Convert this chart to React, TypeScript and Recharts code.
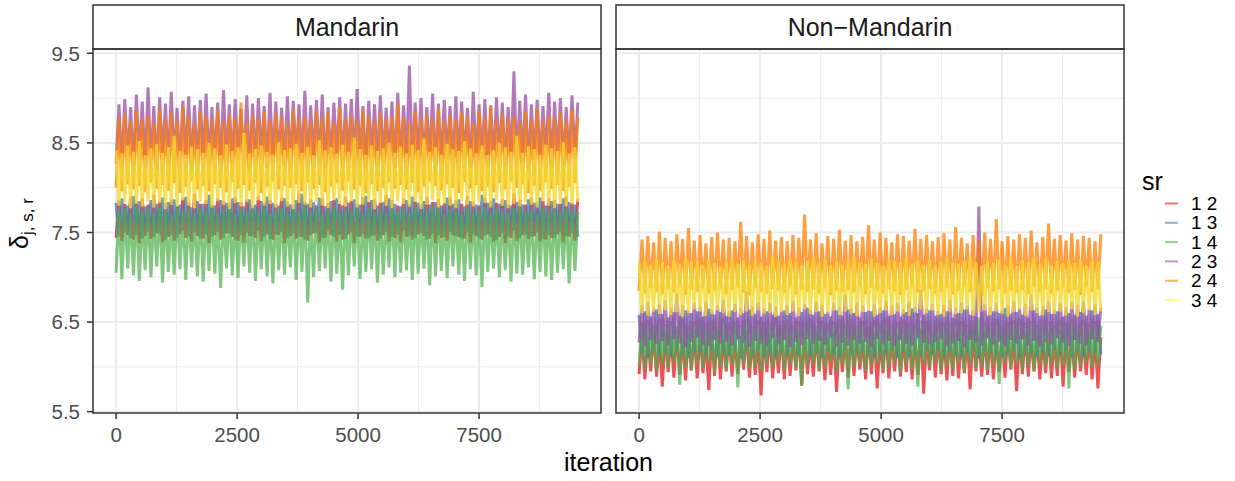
import { LineChart, Line, XAxis, YAxis, CartesianGrid } from 'recharts';

// MCMC draws, thinned: one value every 60 iterations
const iterations = Array.from({ length: 160 }, (_, i) => i * 60);

const pairs = ['1 2', '1 3', '1 4', '2 3', '2 4', '3 4'];
const pairKeys = ['k12', 'k13', 'k14', 'k23', 'k24', 'k34'];
// legend keys are the pale Set1 colours; the dense traces read a bit deeper
const keyColors = ['#E41A1C', '#377EB8', '#4DAF4A', '#984EA3', '#FF7F00', '#FFFF33'];
const lineColors = ['#E41A1C', '#377EB8', '#4DAF4A', '#984EA3', '#FF7F00', '#F3D92E'];
const lineOpacity = [0.75, 0.75, 0.7, 0.75, 0.75, 0.8];

const yTicks = [5.5, 6.5, 7.5, 8.5, 9.5];
const yMinor = [6, 7, 8, 9];
const xTicks = [0, 2500, 5000, 7500];
const xMinor = [1250, 3750, 6250, 8750];

// Mandarin
const m12 = [
  7.44, 7.86, 7.40, 7.82, 7.47, 7.90, 7.42, 7.84, 7.38, 7.88,
  7.46, 7.81, 7.43, 7.92, 7.49, 7.85, 7.39, 7.83, 7.45, 7.87,
  7.41, 7.80, 7.48, 7.89, 7.44, 7.84, 7.40, 7.93, 7.46, 7.82,
  7.43, 7.86, 7.38, 7.81, 7.47, 7.88, 7.42, 7.85, 7.49, 7.83,
  7.45, 7.90, 7.41, 7.84, 7.39, 7.87, 7.46, 7.80, 7.44, 7.91,
  7.40, 7.83, 7.48, 7.86, 7.42, 7.82, 7.47, 7.89, 7.38, 7.85,
  7.46, 7.81, 7.43, 7.94, 7.45, 7.84, 7.41, 7.87, 7.49, 7.80,
  7.39, 7.88, 7.44, 7.83, 7.47, 7.86, 7.40, 7.82, 7.42, 7.90,
  7.48, 7.85, 7.38, 7.81, 7.45, 7.89, 7.43, 7.84, 7.46, 7.87,
  7.41, 7.83, 7.47, 7.92, 7.40, 7.86, 7.44, 7.80, 7.39, 7.88,
  7.45, 7.82, 7.42, 7.85, 7.48, 7.81, 7.46, 7.90, 7.43, 7.84,
  7.38, 7.87, 7.44, 7.83, 7.41, 7.89, 7.47, 7.86, 7.45, 7.82,
  7.43, 7.91, 7.39, 7.84, 7.46, 7.80, 7.42, 7.88, 7.48, 7.85,
  7.40, 7.83, 7.45, 7.87, 7.38, 7.82, 7.44, 7.93, 7.41, 7.86,
  7.47, 7.81, 7.43, 7.89, 7.46, 7.84, 7.40, 7.85, 7.42, 7.88,
  7.44, 7.86, 7.48, 7.82, 7.39, 7.90, 7.45, 7.83, 7.41, 7.87,
];
const m13 = [
  7.83, 7.46, 7.88, 7.50, 7.80, 7.44, 7.91, 7.48, 7.85, 7.43,
  7.79, 7.51, 7.86, 7.45, 7.82, 7.49, 7.89, 7.42, 7.84, 7.47,
  7.87, 7.44, 7.81, 7.52, 7.90, 7.46, 7.78, 7.50, 7.85, 7.43,
  7.82, 7.48, 7.92, 7.45, 7.80, 7.51, 7.86, 7.44, 7.83, 7.49,
  7.88, 7.42, 7.84, 7.47, 7.79, 7.50, 7.87, 7.46, 7.81, 7.52,
  7.85, 7.45, 7.90, 7.43, 7.83, 7.48, 7.80, 7.51, 7.88, 7.44,
  7.81, 7.49, 7.86, 7.46, 7.93, 7.42, 7.82, 7.47, 7.84, 7.50,
  7.89, 7.44, 7.79, 7.52, 7.85, 7.45, 7.88, 7.48, 7.80, 7.43,
  7.83, 7.50, 7.87, 7.46, 7.81, 7.49, 7.91, 7.44, 7.86, 7.47,
  7.80, 7.43, 7.84, 7.51, 7.88, 7.45, 7.82, 7.48, 7.79, 7.52,
  7.86, 7.46, 7.90, 7.44, 7.83, 7.50, 7.85, 7.42, 7.81, 7.49,
  7.84, 7.47, 7.80, 7.45, 7.89, 7.51, 7.82, 7.46, 7.87, 7.43,
  7.79, 7.50, 7.85, 7.48, 7.81, 7.44, 7.92, 7.47, 7.83, 7.45,
  7.88, 7.42, 7.82, 7.49, 7.86, 7.46, 7.80, 7.52, 7.84, 7.44,
  7.81, 7.48, 7.87, 7.45, 7.83, 7.50, 7.89, 7.43, 7.80, 7.47,
  7.85, 7.44, 7.82, 7.51, 7.88, 7.46, 7.84, 7.49, 7.81, 7.45,
];
const m14 = [
  7.05, 7.74, 6.98, 7.77, 7.10, 7.71, 7.02, 7.79, 6.96, 7.73,
  7.08, 7.76, 7.00, 7.72, 7.12, 7.78, 6.94, 7.75, 7.06, 7.70,
  7.03, 7.79, 7.09, 7.73, 6.97, 7.76, 7.11, 7.71, 7.01, 7.77,
  6.95, 7.74, 7.07, 7.80, 7.04, 7.72, 6.88, 7.75, 7.10, 7.78,
  7.02, 7.70, 6.99, 7.76, 7.12, 7.73, 7.05, 7.79, 6.96, 7.74,
  7.09, 7.77, 7.01, 7.71, 6.93, 7.75, 7.08, 7.78, 7.03, 7.72,
  7.11, 7.76, 6.97, 7.74, 7.06, 7.80, 6.72, 7.73, 7.00, 7.77,
  7.07, 7.71, 7.10, 7.75, 6.95, 7.79, 7.04, 7.72, 6.86, 7.76,
  7.02, 7.74, 7.12, 7.78, 6.98, 7.70, 7.06, 7.77, 7.09, 7.73,
  6.94, 7.75, 7.03, 7.71, 7.11, 7.79, 7.00, 7.74, 7.05, 7.76,
  7.08, 7.72, 6.97, 7.78, 7.04, 7.73, 7.10, 7.75, 6.91, 7.80,
  7.01, 7.77, 7.07, 7.70, 6.99, 7.76, 7.12, 7.74, 7.03, 7.71,
  6.96, 7.79, 7.09, 7.73, 7.02, 7.75, 6.89, 7.78, 7.06, 7.72,
  7.10, 7.76, 7.00, 7.74, 7.08, 7.71, 6.95, 7.77, 7.04, 7.79,
  7.03, 7.73, 7.11, 7.75, 6.98, 7.70, 7.06, 7.78, 7.01, 7.74,
  6.97, 7.76, 7.05, 7.72, 7.09, 7.77, 6.93, 7.75, 7.07, 7.73,
];
const m23 = [
  8.27, 8.93, 8.22, 8.99, 8.30, 8.90, 8.25, 9.04, 8.32, 8.96,
  8.23, 9.12, 8.28, 8.91, 8.20, 9.01, 8.31, 8.94, 8.26, 9.07,
  8.29, 8.89, 8.24, 8.97, 8.33, 9.02, 8.21, 8.92, 8.27, 8.98,
  8.30, 9.05, 8.25, 8.90, 8.32, 8.95, 8.22, 9.09, 8.28, 8.93,
  8.24, 8.99, 8.31, 8.88, 8.26, 9.03, 8.20, 8.94, 8.29, 9.00,
  8.33, 8.91, 8.23, 9.06, 8.27, 8.96, 8.30, 8.89, 8.25, 9.02,
  8.21, 8.97, 8.32, 8.93, 8.28, 9.08, 8.24, 8.92, 8.31, 8.98,
  8.26, 9.04, 8.22, 8.90, 8.29, 8.95, 8.33, 9.01, 8.23, 8.94,
  8.30, 8.99, 8.25, 9.10, 8.27, 8.91, 8.20, 8.97, 8.32, 8.93,
  8.24, 9.03, 8.28, 8.89, 8.31, 8.96, 8.22, 9.06, 8.26, 8.92,
  8.29, 9.36, 8.23, 8.95, 8.32, 9.00, 8.25, 8.90, 8.30, 9.05,
  8.21, 8.94, 8.27, 8.98, 8.33, 8.91, 8.24, 9.02, 8.28, 8.96,
  8.31, 8.89, 8.22, 9.07, 8.26, 8.93, 8.30, 8.99, 8.23, 8.92,
  8.28, 9.01, 8.32, 8.95, 8.25, 8.90, 8.29, 9.30, 8.24, 8.97,
  8.27, 9.04, 8.20, 8.93, 8.31, 8.98, 8.26, 8.91, 8.33, 9.06,
  8.23, 8.96, 8.30, 9.00, 8.25, 8.90, 8.28, 9.03, 8.32, 8.95,
];
const m24 = [
  8.00, 8.78, 7.96, 8.83, 8.04, 8.74, 7.98, 8.86, 8.02, 8.76,
  7.95, 8.81, 8.06, 8.73, 7.99, 8.88, 8.03, 8.77, 7.97, 8.84,
  8.05, 8.75, 7.94, 8.92, 8.01, 8.79, 8.07, 8.72, 7.98, 8.85,
  8.02, 8.80, 7.96, 8.76, 8.04, 8.87, 8.00, 8.74, 7.95, 8.82,
  8.06, 8.78, 7.99, 8.95, 8.03, 8.73, 7.97, 8.81, 8.05, 8.77,
  7.94, 8.85, 8.01, 8.75, 8.07, 8.83, 7.98, 8.79, 8.02, 8.72,
  8.00, 8.88, 8.04, 8.76, 7.96, 8.80, 8.06, 8.74, 7.99, 8.86,
  8.03, 8.78, 7.95, 8.84, 8.01, 8.73, 8.05, 8.90, 7.97, 8.77,
  8.07, 8.81, 7.98, 8.75, 8.02, 8.87, 7.94, 8.79, 8.04, 8.74,
  7.96, 8.83, 8.00, 8.76, 8.06, 8.80, 7.99, 8.93, 8.03, 8.78,
  7.98, 8.73, 8.05, 8.85, 7.95, 8.77, 8.01, 8.82, 8.07, 8.75,
  8.02, 8.88, 7.97, 8.74, 8.04, 8.81, 8.00, 8.76, 7.94, 8.84,
  8.06, 8.79, 7.99, 8.72, 8.03, 8.86, 7.96, 8.78, 8.01, 8.91,
  7.95, 8.75, 8.05, 8.83, 7.98, 8.77, 8.07, 8.80, 8.00, 8.73,
  8.04, 8.85, 7.94, 8.76, 8.02, 8.89, 7.97, 8.74, 8.06, 8.81,
  7.99, 8.78, 8.03, 8.84, 7.96, 8.75, 8.01, 8.87, 8.05, 8.79,
];
const m34 = [
  8.42, 7.80, 8.38, 7.84, 8.47, 7.77, 8.40, 7.82, 8.52, 7.79,
  8.36, 7.85, 8.44, 7.78, 8.49, 7.83, 8.39, 7.76, 8.45, 7.81,
  8.58, 7.79, 8.41, 7.86, 8.37, 7.80, 8.46, 7.77, 8.43, 7.84,
  8.39, 7.82, 8.50, 7.78, 8.44, 7.85, 8.36, 7.81, 8.48, 7.76,
  8.41, 7.83, 8.45, 7.79, 8.61, 7.84, 8.38, 7.77, 8.43, 7.86,
  8.47, 7.80, 8.40, 7.82, 8.37, 7.78, 8.51, 7.85, 8.42, 7.79,
  8.44, 7.76, 8.49, 7.83, 8.39, 7.81, 8.46, 7.78, 8.36, 7.84,
  8.53, 7.80, 8.42, 7.77, 8.45, 7.86, 8.38, 7.82, 8.48, 7.79,
  8.40, 7.85, 8.56, 7.78, 8.43, 7.81, 8.37, 7.84, 8.47, 7.76,
  8.41, 7.83, 8.44, 7.80, 8.50, 7.77, 8.39, 7.85, 8.46, 7.82,
  8.38, 7.79, 8.48, 7.84, 8.42, 7.76, 8.55, 7.81, 8.40, 7.86,
  8.45, 7.78, 8.37, 7.82, 8.49, 7.80, 8.43, 7.77, 8.41, 7.85,
  8.52, 7.81, 8.44, 7.79, 8.38, 7.84, 8.47, 7.83, 8.36, 7.78,
  8.42, 7.86, 8.50, 7.80, 8.45, 7.77, 8.40, 7.82, 8.58, 7.79,
  8.39, 7.84, 8.46, 7.81, 8.43, 7.78, 8.37, 7.85, 8.48, 7.80,
  8.44, 7.77, 8.41, 7.83, 8.51, 7.79, 8.38, 7.82, 8.45, 7.84,
];

// Non-Mandarin
const n12 = [
  5.92, 6.36, 5.86, 6.33, 5.95, 6.40, 5.89, 6.31, 5.78, 6.38,
  5.94, 6.34, 5.88, 6.41, 5.91, 6.32, 5.85, 6.37, 5.96, 6.35,
  5.87, 6.39, 5.93, 6.30, 5.74, 6.36, 5.90, 6.42, 5.86, 6.33,
  5.95, 6.37, 5.89, 6.31, 5.92, 6.35, 5.97, 6.40, 5.88, 6.34,
  5.91, 6.32, 5.68, 6.38, 5.94, 6.36, 5.87, 6.30, 5.93, 6.41,
  5.86, 6.35, 5.90, 6.33, 5.96, 6.39, 5.79, 6.37, 5.92, 6.31,
  5.89, 6.40, 5.95, 6.34, 5.85, 6.32, 5.91, 6.38, 5.72, 6.36,
  5.94, 6.33, 5.88, 6.41, 5.90, 6.35, 5.97, 6.30, 5.86, 6.39,
  5.92, 6.37, 5.76, 6.32, 5.93, 6.40, 5.87, 6.34, 5.95, 6.36,
  5.89, 6.31, 5.94, 6.38, 5.86, 6.33, 5.91, 6.42, 5.70, 6.35,
  5.96, 6.39, 5.88, 6.34, 5.92, 6.31, 5.85, 6.37, 5.90, 6.40,
  5.87, 6.32, 5.93, 6.36, 5.75, 6.41, 5.95, 6.33, 5.89, 6.38,
  5.91, 6.35, 5.86, 6.30, 5.94, 6.37, 5.88, 6.39, 5.97, 6.34,
  5.73, 6.36, 5.92, 6.40, 5.89, 6.32, 5.95, 6.35, 5.86, 6.31,
  5.93, 6.38, 5.87, 6.33, 5.90, 6.41, 5.78, 6.36, 5.94, 6.34,
  5.88, 6.37, 5.95, 6.31, 5.91, 6.39, 5.86, 6.35, 5.76, 6.33,
];
const n13 = [
  6.58, 6.15, 6.62, 6.11, 6.56, 6.18, 6.64, 6.13, 6.59, 6.16,
  6.55, 6.12, 6.61, 6.19, 6.57, 6.14, 6.63, 6.10, 6.60, 6.17,
  6.62, 6.16, 6.56, 6.12, 6.65, 6.18, 6.58, 6.11, 6.61, 6.15,
  6.57, 6.13, 6.63, 6.17, 6.55, 6.10, 6.60, 6.19, 6.64, 6.14,
  6.59, 6.18, 6.56, 6.12, 6.62, 6.15, 6.58, 6.11, 6.57, 6.16,
  6.63, 6.14, 6.60, 6.19, 6.55, 6.13, 6.61, 6.17, 6.66, 6.12,
  6.58, 6.16, 6.62, 6.10, 6.59, 6.18, 6.56, 6.14, 6.63, 6.11,
  6.57, 6.19, 6.64, 6.13, 6.60, 6.15, 6.55, 6.17, 6.61, 6.12,
  6.62, 6.11, 6.58, 6.16, 6.63, 6.14, 6.57, 6.18, 6.59, 6.10,
  6.56, 6.17, 6.61, 6.12, 6.65, 6.15, 6.60, 6.13, 6.58, 6.19,
  6.63, 6.14, 6.57, 6.18, 6.59, 6.11, 6.62, 6.16, 6.55, 6.13,
  6.60, 6.12, 6.64, 6.15, 6.58, 6.19, 6.56, 6.10, 6.61, 6.17,
  6.57, 6.16, 6.62, 6.13, 6.60, 6.11, 6.66, 6.14, 6.59, 6.18,
  6.61, 6.10, 6.58, 6.17, 6.55, 6.15, 6.63, 6.12, 6.57, 6.16,
  6.64, 6.13, 6.59, 6.19, 6.62, 6.14, 6.56, 6.18, 6.60, 6.11,
  6.58, 6.17, 6.61, 6.12, 6.57, 6.16, 6.63, 6.15, 6.59, 6.14,
];
const n14 = [
  6.01, 6.49, 5.97, 6.52, 6.04, 6.46, 5.95, 6.54, 6.02, 6.48,
  5.98, 6.51, 6.05, 6.45, 5.80, 6.53, 6.00, 6.47, 5.96, 6.50,
  6.03, 6.55, 5.99, 6.48, 6.05, 6.52, 5.94, 6.46, 6.01, 6.54,
  5.97, 6.49, 6.02, 6.51, 5.77, 6.47, 6.04, 6.53, 5.98, 6.45,
  6.00, 6.52, 5.95, 6.50, 6.03, 6.48, 5.99, 6.55, 6.05, 6.46,
  5.96, 6.53, 6.02, 6.47, 5.98, 6.51, 5.79, 6.49, 6.01, 6.54,
  6.04, 6.46, 5.97, 6.52, 6.00, 6.48, 6.05, 6.50, 5.95, 6.53,
  6.02, 6.49, 5.75, 6.54, 5.99, 6.47, 6.03, 6.51, 5.96, 6.45,
  6.01, 6.52, 6.04, 6.48, 5.97, 6.55, 6.00, 6.46, 6.05, 6.50,
  5.94, 6.53, 6.02, 6.49, 5.98, 6.47, 5.78, 6.52, 6.03, 6.51,
  5.99, 6.46, 6.05, 6.54, 5.96, 6.50, 6.01, 6.48, 5.97, 6.53,
  6.03, 6.51, 5.95, 6.47, 6.04, 6.52, 5.98, 6.55, 6.00, 6.49,
  5.97, 6.48, 6.02, 6.53, 5.81, 6.46, 6.05, 6.50, 5.99, 6.52,
  6.04, 6.54, 5.96, 6.49, 6.01, 6.51, 5.95, 6.47, 6.03, 6.53,
  6.00, 6.50, 6.04, 6.46, 5.98, 6.52, 6.02, 6.49, 5.76, 6.54,
  5.97, 6.47, 6.01, 6.53, 6.05, 6.48, 5.99, 6.51, 6.02, 6.46,
];
const n23 = [
  6.27, 6.68, 6.23, 6.72, 6.30, 6.65, 6.25, 6.70, 6.29, 6.74,
  6.24, 6.66, 6.31, 6.82, 6.26, 6.69, 6.22, 6.63, 6.28, 6.71,
  6.32, 6.67, 6.25, 6.73, 6.23, 6.64, 6.30, 6.69, 6.26, 6.75,
  6.28, 6.62, 6.24, 6.70, 6.31, 6.66, 6.27, 6.84, 6.22, 6.68,
  6.29, 6.72, 6.26, 6.65, 6.23, 6.71, 6.32, 6.67, 6.25, 6.63,
  6.30, 6.69, 6.22, 6.74, 6.28, 6.66, 6.24, 6.70, 6.31, 6.64,
  6.26, 6.73, 6.29, 6.68, 6.25, 6.62, 6.32, 6.71, 6.23, 6.67,
  6.27, 6.80, 6.24, 6.65, 6.30, 6.72, 6.26, 6.69, 6.28, 6.63,
  6.22, 6.70, 6.31, 6.66, 6.25, 6.74, 6.29, 6.68, 6.23, 6.71,
  6.30, 6.64, 6.26, 6.73, 6.24, 6.67, 6.32, 6.86, 6.27, 6.65,
  6.25, 6.70, 6.28, 6.62, 6.31, 6.69, 6.23, 6.75, 6.26, 6.66,
  6.29, 6.72, 6.22, 6.68, 6.30, 6.64, 6.27, 7.79, 6.24, 6.70,
  6.32, 6.67, 6.25, 6.71, 6.28, 6.63, 6.23, 6.69, 6.30, 6.73,
  6.26, 6.65, 6.31, 6.70, 6.24, 6.81, 6.29, 6.66, 6.22, 6.68,
  6.28, 6.74, 6.25, 6.64, 6.32, 6.71, 6.27, 6.67, 6.23, 6.72,
  6.30, 6.69, 6.26, 6.73, 6.24, 6.65, 6.31, 6.70, 6.28, 6.66,
];
const n24 = [
  6.85, 7.42, 6.82, 7.46, 6.88, 7.39, 6.84, 7.51, 6.81, 7.44,
  6.87, 7.40, 6.83, 7.48, 6.89, 7.43, 6.80, 7.55, 6.86, 7.41,
  6.84, 7.47, 6.88, 7.38, 6.82, 7.45, 6.85, 7.50, 6.87, 7.42,
  6.81, 7.44, 6.86, 7.40, 6.89, 7.62, 6.83, 7.46, 6.80, 7.39,
  6.88, 7.48, 6.84, 7.43, 6.82, 7.52, 6.87, 7.41, 6.85, 7.45,
  6.83, 7.40, 6.89, 7.47, 6.81, 7.44, 6.86, 7.70, 6.84, 7.42,
  6.87, 7.49, 6.82, 7.38, 6.88, 7.46, 6.80, 7.43, 6.85, 7.53,
  6.84, 7.41, 6.86, 7.47, 6.83, 7.40, 6.89, 7.45, 6.81, 7.58,
  6.88, 7.42, 6.85, 7.50, 6.82, 7.44, 6.87, 7.39, 6.84, 7.48,
  6.80, 7.46, 6.86, 7.41, 6.89, 7.54, 6.83, 7.43, 6.85, 7.47,
  6.87, 7.40, 6.82, 7.45, 6.84, 7.49, 6.88, 7.42, 6.81, 7.56,
  6.85, 7.44, 6.89, 7.38, 6.83, 7.47, 6.86, 7.41, 6.80, 7.50,
  6.88, 7.43, 6.84, 7.65, 6.87, 7.40, 6.82, 7.46, 6.85, 7.42,
  6.83, 7.48, 6.86, 7.44, 6.81, 7.52, 6.89, 7.39, 6.84, 7.45,
  6.87, 7.60, 6.82, 7.43, 6.85, 7.47, 6.88, 7.41, 6.83, 7.49,
  6.86, 7.42, 6.80, 7.46, 6.89, 7.44, 6.84, 7.40, 6.87, 7.48,
];
const n34 = [
  7.16, 6.60, 7.19, 6.57, 7.14, 6.62, 7.21, 6.59, 7.17, 6.63,
  7.13, 6.58, 7.20, 6.61, 7.15, 6.56, 7.22, 6.60, 7.18, 6.64,
  7.19, 6.62, 7.14, 6.57, 7.21, 6.59, 7.16, 6.63, 7.12, 6.60,
  7.17, 6.56, 7.22, 6.61, 7.15, 6.58, 7.19, 6.62, 7.14, 6.57,
  7.20, 6.63, 7.16, 6.59, 7.13, 6.60, 7.23, 6.56, 7.18, 6.61,
  7.15, 6.58, 7.21, 6.62, 7.17, 6.57, 7.14, 6.64, 7.19, 6.59,
  7.22, 6.61, 7.16, 6.56, 7.20, 6.60, 7.13, 6.63, 7.18, 6.58,
  7.14, 6.62, 7.19, 6.59, 7.23, 6.57, 7.17, 6.61, 7.15, 6.64,
  7.21, 6.56, 7.16, 6.60, 7.13, 6.63, 7.20, 6.58, 7.18, 6.62,
  7.17, 6.59, 7.22, 6.57, 7.15, 6.61, 7.19, 6.64, 7.14, 6.60,
  7.20, 6.63, 7.13, 6.58, 7.18, 6.56, 7.21, 6.62, 7.16, 6.59,
  7.15, 6.60, 7.19, 6.64, 7.22, 6.57, 7.17, 6.61, 7.13, 6.63,
  7.18, 6.58, 7.16, 6.62, 7.20, 6.59, 7.14, 6.56, 7.21, 6.61,
  7.13, 6.64, 7.19, 6.57, 7.17, 6.63, 7.22, 6.60, 7.15, 6.58,
  7.21, 6.61, 7.14, 6.59, 7.18, 6.62, 7.16, 6.57, 7.20, 6.64,
  7.16, 6.56, 7.20, 6.60, 7.13, 6.63, 7.19, 6.58, 7.17, 6.62,
];

function buildRows(series: number[][]) {
  return iterations.map((it, i) => {
    const row: Record<string, number> = { it };
    pairKeys.forEach((k, j) => {
      row[k] = series[j][i];
    });
    return row;
  });
}

const mandarinRows = buildRows([m12, m13, m14, m23, m24, m34]);
const nonMandarinRows = buildRows([n12, n13, n14, n23, n24, n34]);

const FONT = '"Liberation Sans", Arial, Helvetica, sans-serif';
const GRID = '#EBEBEB';
const DARK = '#333333';
const TICK_TEXT = { fill: '#4D4D4D', fontSize: 20.5 };

// plot panel geometry (px)
const PANEL_TOP = 49;
const PANEL_BOTTOM = 413;
const PANEL_W = 508;
const LEFT_X = 93;
const RIGHT_X = 616;
const X_DOMAIN = [-477, 10019];
const Y_DOMAIN = [5.485, 9.548];

function Panel({ rows, left, width, plotX, showY }: any) {
  const yAxisW = showY ? 60 : 0;
  const xAxisH = 40;
  return (
    <div style={{ position: 'absolute', left, top: 0 }}>
      <LineChart
        width={width}
        height={481}
        data={rows}
        margin={{
          top: PANEL_TOP,
          left: plotX - left - yAxisW,
          right: left + width - (plotX + PANEL_W),
          bottom: 481 - PANEL_BOTTOM - xAxisH,
        }}
      >
        <CartesianGrid stroke={GRID} strokeWidth={1} horizontalValues={yMinor} verticalValues={xMinor} />
        <CartesianGrid stroke={GRID} strokeWidth={2} horizontalValues={yTicks} verticalValues={xTicks} />
        <XAxis
          type="number"
          dataKey="it"
          domain={X_DOMAIN}
          allowDataOverflow
          ticks={xTicks}
          height={xAxisH}
          axisLine={false}
          tickSize={6}
          tickMargin={8}
          tickLine={{ stroke: DARK, strokeWidth: 1.5 }}
          tick={TICK_TEXT}
        />
        <YAxis
          type="number"
          domain={Y_DOMAIN}
          allowDataOverflow
          ticks={yTicks}
          hide={!showY}
          width={yAxisW}
          axisLine={false}
          tickSize={6}
          tickMargin={7}
          tickLine={{ stroke: DARK, strokeWidth: 1.5 }}
          tick={TICK_TEXT}
          tickFormatter={(v: number) => v.toFixed(1)}
        />
        {pairKeys.map((k, j) => (
          <Line
            key={k}
            type="linear"
            dataKey={k}
            stroke={lineColors[j]}
            strokeOpacity={lineOpacity[j]}
            strokeWidth={3}
            dot={false}
            activeDot={false}
            isAnimationActive={false}
          />
        ))}
      </LineChart>
    </div>
  );
}

export default function App() {
  const legendTop = 203.5;
  const legendStep = 19.3;
  return (
    <div
      style={{
        position: 'absolute',
        left: 0,
        top: 0,
        width: 1235,
        height: 481,
        background: '#fff',
        fontFamily: FONT,
      }}
    >
      <Panel rows={mandarinRows} left={0} width={605} plotX={LEFT_X} showY />
      <Panel rows={nonMandarinRows} left={608} width={522} plotX={RIGHT_X} showY={false} />

      <svg
        width={1235}
        height={481}
        style={{ position: 'absolute', left: 0, top: 0, pointerEvents: 'none', fontFamily: FONT }}
      >
        {/* strips and panel borders */}
        {[
          { x: LEFT_X, label: 'Mandarin' },
          { x: RIGHT_X, label: 'Non\u2212Mandarin' },
        ].map((s) => (
          <g key={s.label}>
            <rect x={s.x} y={5} width={PANEL_W} height={PANEL_TOP - 5} fill="#fff" stroke={DARK} strokeWidth={1.5} />
            <text x={s.x + PANEL_W / 2} y={36} textAnchor="middle" fontSize={25} fill="#1A1A1A">
              {s.label}
            </text>
            <rect
              x={s.x}
              y={PANEL_TOP}
              width={PANEL_W}
              height={PANEL_BOTTOM - PANEL_TOP}
              fill="none"
              stroke={DARK}
              strokeWidth={1.5}
            />
          </g>
        ))}

        {/* axis titles */}
        <text x={(LEFT_X + RIGHT_X + PANEL_W) / 2} y={471} textAnchor="middle" fontSize={25} fill="#000">
          iteration
        </text>
        <text transform="translate(28,223.5) rotate(-90)" textAnchor="middle" fontSize={25} fill="#000">
          δ
          <tspan fontSize={17} dy={5}>
            j, s, r
          </tspan>
        </text>

        {/* legend */}
        <text x={1142} y={190} fontSize={25} fill="#000">
          sr
        </text>
        {pairs.map((p, j) => {
          const y = legendTop + j * legendStep;
          return (
            <g key={p}>
              <line x1={1165} x2={1178} y1={y} y2={y} stroke={keyColors[j]} strokeOpacity={0.6} strokeWidth={2} />
              <text x={1191} y={y + 6.5} fontSize={19} fill="#000">
                {p}
              </text>
            </g>
          );
        })}
      </svg>
    </div>
  );
}
